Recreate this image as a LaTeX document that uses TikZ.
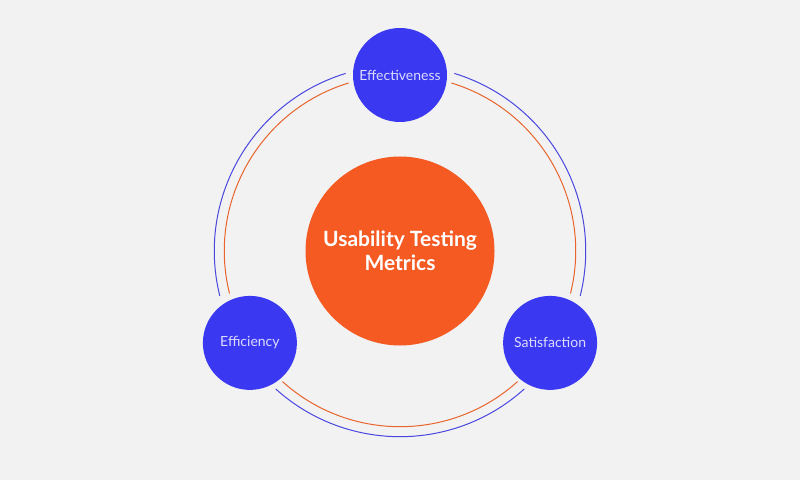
\documentclass[tikz,border=0pt]{standalone}
\usepackage{fontspec}
\setmainfont{Lato}
\usetikzlibrary{positioning}
\definecolor{paper}{HTML}{F2F2F2}
\definecolor{metricblue}{HTML}{3A38F0}
\definecolor{huborange}{HTML}{F45A22}
\definecolor{ringblue}{HTML}{4A46E0}
\definecolor{ringorange}{HTML}{E8642C}
\definecolor{labelblue}{HTML}{DCDCFF}
\tikzstyle{metric}=[circle,fill=metricblue,minimum size=94pt,inner sep=0pt,text=labelblue,font=\fontsize{14}{16}\selectfont]
\tikzstyle{hub}=[circle,fill=huborange,minimum size=189pt,inner sep=0pt,text=white,align=center,font=\bfseries\fontsize{21}{24}\selectfont]
\tikzstyle{ring}=[line width=1pt]

\begin{document}
\begin{tikzpicture}[x=1pt,y=1pt]
    \fill[paper] (0,0) rectangle (800,480);
    \useasboundingbox (0,0) rectangle (800,480);

    \node[hub]    (H) at (400,229)     {Usability Testing\\Metrics};
    \node[metric] (E) at (400,405)     {Effectiveness};
    \node[metric] (F) at (249.9,137.1) {Efficiency};
    \node[metric] (S) at (550.1,137.1) {Satisfaction};

    % outer and inner rings, broken at the metrics
    \foreach \a/\b in {107/194,228/312,346/433}{
        \draw[ring,ringblue] ([shift={(\a:185.7)}]H.center) arc[start angle=\a,end angle=\b,radius=185.7];
        \draw[ring,ringorange] ([shift={(\a:175.7)}]H.center) arc[start angle=\a,end angle=\b,radius=175.7];
    }
\end{tikzpicture}
\end{document}
